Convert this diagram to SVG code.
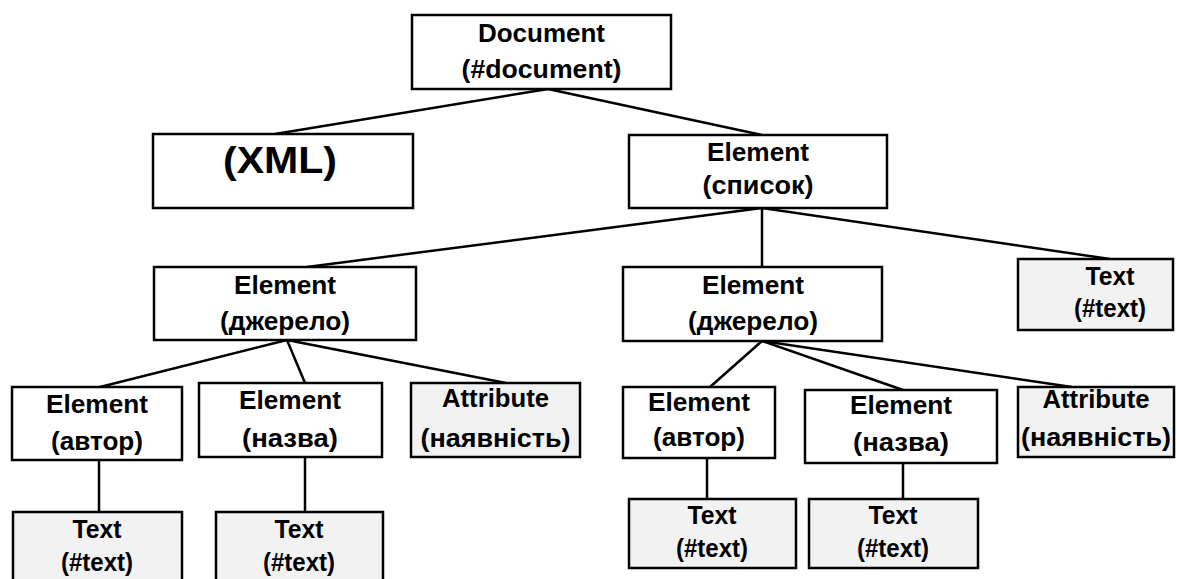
<svg xmlns="http://www.w3.org/2000/svg" width="1177" height="579" viewBox="0 0 1177 579">
<style>
.b{fill:#ffffff;stroke:#000;stroke-width:2.5}
.g{fill:#f2f2f2;stroke:#000;stroke-width:2.5}
.t{font-family:"Liberation Sans",Arial,sans-serif;font-weight:bold;font-size:25px;text-anchor:middle;fill:#000}
.x{font-size:36px}
.c line{stroke:#000;stroke-width:2.5}
</style>
<rect width="1177" height="579" fill="#fff"/>
<g class="c" id="connectors">
<line x1="548" y1="89" x2="275" y2="134"/>
<line x1="548" y1="89" x2="762" y2="135"/>
<line x1="762" y1="208" x2="307" y2="267"/>
<line x1="762" y1="208" x2="762" y2="267"/>
<line x1="762" y1="208" x2="1110" y2="259"/>
<line x1="287" y1="340" x2="100" y2="387"/>
<line x1="287" y1="340" x2="305" y2="383"/>
<line x1="287" y1="340" x2="506" y2="383"/>
<line x1="99" y1="460" x2="99" y2="512"/>
<line x1="305" y1="457" x2="305" y2="512"/>
<line x1="762" y1="341" x2="710" y2="387"/>
<line x1="762" y1="341" x2="903" y2="390"/>
<line x1="762" y1="341" x2="1072" y2="387"/>
<line x1="707" y1="458" x2="707" y2="499"/>
<line x1="903" y1="463" x2="903" y2="499"/>
</g>
<g id="document"><rect class="b" x="412" y="15" width="259" height="74"/><text class="t" x="541.5" y="42" textLength="127" lengthAdjust="spacingAndGlyphs">Document</text><text class="t" x="541.5" y="78" textLength="160" lengthAdjust="spacingAndGlyphs">(#document)</text></g>
<g id="xml"><rect class="b" x="153" y="134" width="260" height="74"/><text class="t x" x="280" y="173" textLength="114" lengthAdjust="spacingAndGlyphs">(XML)</text></g>
<g id="spysok"><rect class="b" x="629" y="135" width="258" height="73"/><text class="t" x="758" y="161" textLength="102" lengthAdjust="spacingAndGlyphs">Element</text><text class="t" x="758" y="194" textLength="111" lengthAdjust="spacingAndGlyphs">(список)</text></g>
<g id="dzherelo1"><rect class="b" x="154" y="267" width="262" height="73"/><text class="t" x="285" y="294" textLength="102" lengthAdjust="spacingAndGlyphs">Element</text><text class="t" x="285" y="330" textLength="130" lengthAdjust="spacingAndGlyphs">(джерело)</text></g>
<g id="dzherelo2"><rect class="b" x="623" y="267" width="259" height="74"/><text class="t" x="753" y="294" textLength="102" lengthAdjust="spacingAndGlyphs">Element</text><text class="t" x="753" y="330" textLength="130" lengthAdjust="spacingAndGlyphs">(джерело)</text></g>
<g id="text0"><rect class="g" x="1018" y="259" width="155" height="71"/><text class="t" x="1110" y="285" textLength="49" lengthAdjust="spacingAndGlyphs">Text</text><text class="t" x="1110" y="317" textLength="72" lengthAdjust="spacingAndGlyphs">(#text)</text></g>
<g id="avtor1"><rect class="b" x="12" y="387" width="170" height="73"/><text class="t" x="97" y="413" textLength="102" lengthAdjust="spacingAndGlyphs">Element</text><text class="t" x="97" y="450" textLength="92" lengthAdjust="spacingAndGlyphs">(автор)</text></g>
<g id="nazva1"><rect class="b" x="199" y="383" width="183" height="74"/><text class="t" x="290" y="409" textLength="102" lengthAdjust="spacingAndGlyphs">Element</text><text class="t" x="290" y="447" textLength="96" lengthAdjust="spacingAndGlyphs">(назва)</text></g>
<g id="attr1"><rect class="g" x="411" y="383" width="169" height="74"/><text class="t" x="495.5" y="407" textLength="107" lengthAdjust="spacingAndGlyphs">Attribute</text><text class="t" x="495.5" y="447" textLength="150" lengthAdjust="spacingAndGlyphs">(наявність)</text></g>
<g id="text1"><rect class="g" x="13" y="512" width="169" height="75"/><text class="t" x="97" y="538" textLength="49" lengthAdjust="spacingAndGlyphs">Text</text><text class="t" x="97" y="571" textLength="72" lengthAdjust="spacingAndGlyphs">(#text)</text></g>
<g id="text2"><rect class="g" x="216" y="512" width="167" height="75"/><text class="t" x="299" y="538" textLength="49" lengthAdjust="spacingAndGlyphs">Text</text><text class="t" x="299" y="571" textLength="72" lengthAdjust="spacingAndGlyphs">(#text)</text></g>
<g id="avtor2"><rect class="b" x="623" y="387" width="152" height="71"/><text class="t" x="699" y="411" textLength="102" lengthAdjust="spacingAndGlyphs">Element</text><text class="t" x="699" y="446" textLength="92" lengthAdjust="spacingAndGlyphs">(автор)</text></g>
<g id="nazva2"><rect class="b" x="805" y="390" width="192" height="73"/><text class="t" x="901" y="414" textLength="102" lengthAdjust="spacingAndGlyphs">Element</text><text class="t" x="901" y="451" textLength="96" lengthAdjust="spacingAndGlyphs">(назва)</text></g>
<g id="attr2"><rect class="g" x="1018" y="387" width="156" height="70"/><text class="t" x="1096" y="408" textLength="107" lengthAdjust="spacingAndGlyphs">Attribute</text><text class="t" x="1096" y="446" textLength="150" lengthAdjust="spacingAndGlyphs">(наявність)</text></g>
<g id="text3"><rect class="g" x="629" y="499" width="167" height="69"/><text class="t" x="712" y="524" textLength="49" lengthAdjust="spacingAndGlyphs">Text</text><text class="t" x="712" y="557" textLength="72" lengthAdjust="spacingAndGlyphs">(#text)</text></g>
<g id="text4"><rect class="g" x="809" y="499" width="169" height="69"/><text class="t" x="893" y="524" textLength="49" lengthAdjust="spacingAndGlyphs">Text</text><text class="t" x="893" y="557" textLength="72" lengthAdjust="spacingAndGlyphs">(#text)</text></g>
</svg>
